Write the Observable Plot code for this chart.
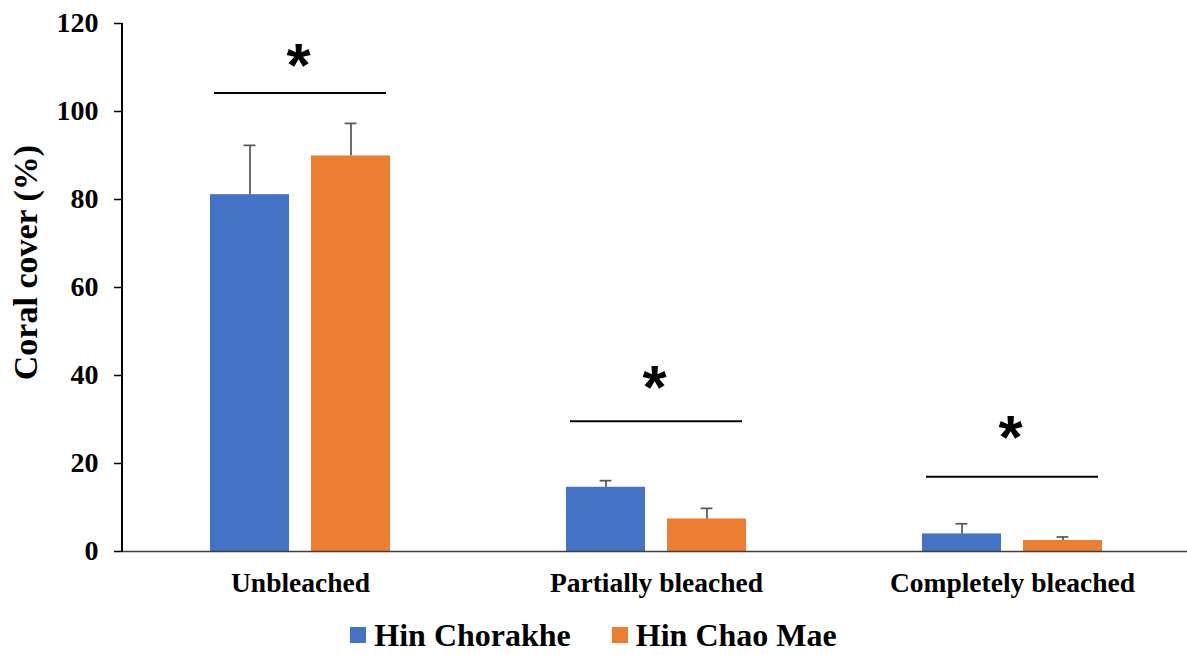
<!DOCTYPE html>
<html><head><meta charset="utf-8">
<script src="https://cdn.jsdelivr.net/npm/d3@7"></script>
<script src="https://cdn.jsdelivr.net/npm/@observablehq/plot@0.6"></script>
<style>
body{margin:0;background:#fff;}
#legend{display:flex;justify-content:center;align-items:center;height:40px;padding-left:0px;
  font-family:"Liberation Serif",serif;font-weight:bold;font-size:32px;color:#000;}
#legend .item{display:flex;align-items:center;}
#legend .sw{width:16px;height:16px;margin-right:8px;}
#legend .item + .item{margin-left:41px;}
</style></head><body><div id="chart"></div><div id="legend"></div>
<script>
const categories = ["Unbleached", "Partially bleached", "Completely bleached"];
const series = ["Hin Chorakhe", "Hin Chao Mae"];
const hinChorakhe = [81.1, 14.6, 4.0];
const hinChorakheErr = [11.2, 1.5, 2.3];
const hinChaoMae = [89.9, 7.4, 2.5];
const hinChaoMaeErr = [7.4, 2.4, 0.8];
const sigLineY = [104.2, 29.6, 17.0];
const sigStarY = [110.4, 37.2, 25.7];
const sigMark = "*";
const yTicks = [0, 20, 40, 60, 80, 100, 120];
const yLabel = "Coral cover (%)";
const colors = ["#4472C4", "#ED7D31"];

const rows = [];
categories.forEach((c, i) => {
  rows.push({category: c, series: series[0], value: hinChorakhe[i], upper: hinChorakhe[i] + hinChorakheErr[i]});
  rows.push({category: c, series: series[1], value: hinChaoMae[i], upper: hinChaoMae[i] + hinChaoMaeErr[i]});
});
const sig = categories.map((c, i) => ({category: c, line: sigLineY[i], star: sigStarY[i]}));
const ylab = [{category: categories[0], label: yLabel}];

const marginLeft = 122;
const chart = Plot.plot({
  width: 1187, height: 615,
  marginLeft, marginRight: 0, marginTop: 23, marginBottom: 64,
  style: {fontFamily: "Liberation Serif", fontWeight: "bold", color: "#000", background: "#fff", overflow: "visible"},
  fx: {domain: categories, range: [marginLeft, 1190], padding: 0, label: null},
  x: {domain: series, paddingInner: 0.2157, paddingOuter: 0.853, axis: null},
  y: {domain: [0, 120], ticks: yTicks},
  color: {domain: series, range: colors},
  marks: [
    Plot.barY(rows, {fx: "category", x: "series", y: "value", fill: "series"}),
    Plot.ruleX(rows, {fx: "category", x: "series", y1: "value", y2: "upper", stroke: "#595959", strokeWidth: 1.75}),
    Plot.tickY(rows, {fx: "category", x: "series", y: "upper", stroke: "#595959", strokeWidth: 1.75, insetLeft: 33.6, insetRight: 33.6}),
    Plot.ruleY([0], {stroke: "#404040", strokeWidth: 1.5}),
    Plot.ruleY(sig, {fx: "category", y: "line", stroke: "#000", strokeWidth: 2, insetLeft: 92, insetRight: 92}),
    Plot.text(sig, {fx: "category", y: "star", text: () => sigMark, fontSize: 62, fontFamily: "Liberation Sans", fontWeight: "bold", lineAnchor: "middle", dx: -2}),
    Plot.axisY({ticks: yTicks, tickSize: 8, tickPadding: 16, fontSize: 28, label: null, strokeWidth: 1.5}),
    Plot.axisFx({anchor: "bottom", tickSize: 0, tickPadding: 21, fontSize: 27.5, label: null}),
    Plot.text(ylab, {fx: "category", text: "label", frameAnchor: "left", textAnchor: "middle", lineAnchor: "middle", rotate: -90, dx: -96, dy: -25, fontSize: 34})
  ]
});
const y = chart.scale("y");
d3.select(chart).append("line")
  .attr("x1", marginLeft).attr("x2", marginLeft)
  .attr("y1", y.apply(0) + 0.75).attr("y2", y.apply(120))
  .attr("stroke", "#000").attr("stroke-width", 2);
document.getElementById("chart").append(chart);

const legend = d3.select("#legend");
series.forEach((s, i) => {
  const it = legend.append("div").attr("class", "item");
  it.append("div").attr("class", "sw").style("background", colors[i]);
  it.append("span").text(s);
});
</script></body></html>
